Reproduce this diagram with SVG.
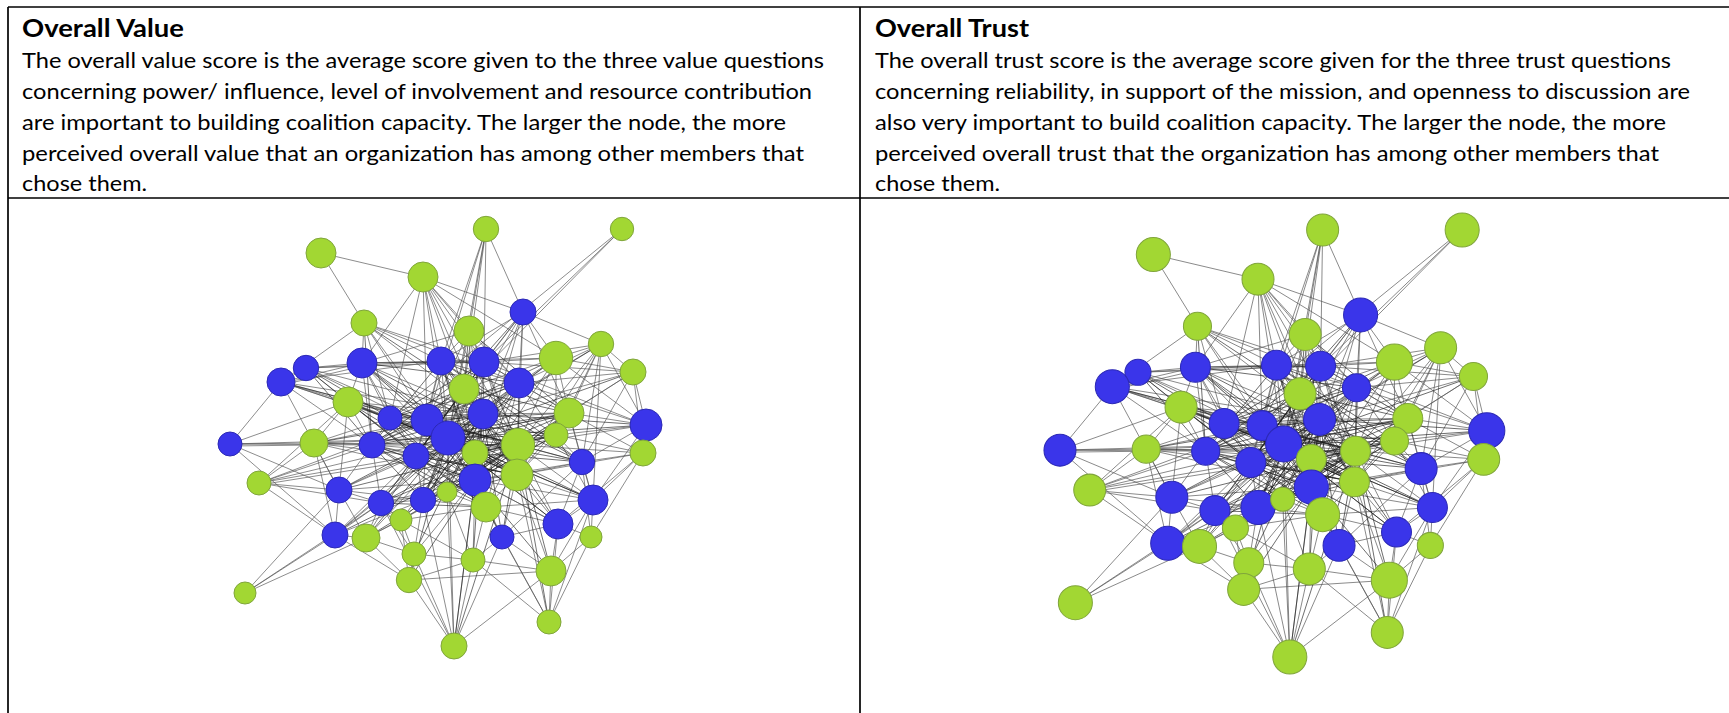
<svg xmlns="http://www.w3.org/2000/svg" xmlns:xlink="http://www.w3.org/1999/xlink" width="1729" height="713" viewBox="0 0 1729 713">
  <style>
    .tb { stroke: #000; stroke-width: 1.7; fill: none; }
    .t { font-family: Lato, "Open Sans", "Liberation Sans", sans-serif; font-size: 22px; fill: #000; }
    .h { font-weight: bold; font-size: 24px; }
    .e { fill: none; stroke: #555; stroke-width: 0.9; stroke-opacity: 0.75; }
    .c { fill: none; stroke: #1e1e1e; stroke-width: 0.9; stroke-opacity: 0.7; }
    .g { fill: #a2d733; stroke: #80a53c; stroke-width: 1; }
    .b { fill: #3a35ea; stroke: #2c29b5; stroke-width: 1; }
  </style>
  <defs>
    <!-- shared edge set of the coalition network (local layout coordinates) -->
    <g id="net-edges">
    <path class="e" d="M486 229L523 312M486 229L469 331M486 229L441 361M486 229L484 362M486 229L464 389M486 229L427 420M486 229L448 438
M622 229L464 389M622 229L390 418M622 229L484 362
M321 253L423 277M321 253L364 323
M423 277L523 312M423 277L469 331M423 277L556 358M423 277L362 363M423 277L441 361M423 277L484 362M423 277L519 383M423 277L464 389M423 277L390 418M423 277L427 420M423 277L483 414M423 277L448 438M423 277L518 445
M523 312L601 344M523 312L556 358M523 312L441 361M523 312L484 362M523 312L519 383M523 312L464 389M523 312L483 414M523 312L569 413M523 312L448 438M523 312L518 445M523 312L475 480
M364 323L362 363M364 323L441 361M364 323L484 362M364 323L281 382M364 323L519 383M364 323L390 418M364 323L427 420M364 323L483 414M364 323L448 438
M469 331L362 363M469 331L441 361M469 331L484 362M469 331L519 383M469 331L427 420M469 331L483 414M469 331L448 438M469 331L518 445M469 331L475 480
M601 344L556 358M601 344L484 362M601 344L633 372M601 344L519 383M601 344L483 414M601 344L569 413M601 344L646 425M601 344L556 435M601 344L518 445M601 344L582 462M601 344L517 475M601 344L593 500
M556 358L441 361M556 358L484 362M556 358L519 383M556 358L464 389M556 358L483 414M556 358L569 413M556 358L646 425M556 358L556 435M556 358L518 445M556 358L475 480
M362 363L281 382M363 366L282 385M362 363L441 361M362 363L348 402M362 363L390 418M362 363L427 420M362 363L483 414M362 363L448 438M362 363L372 445M362 363L416 456M362 363L475 480
M441 361L484 362M441 361L519 383M441 361L464 389M441 361L427 420M441 361L483 414M441 361L448 438M441 361L518 445M441 361L416 456M441 361L475 480
M484 362L519 383M484 362L427 420M484 362L483 414M484 362L569 413M484 362L448 438M484 362L518 445M484 362L475 480M484 362L517 475
M306 368L362 363M306 368L441 361M306 368L484 362M306 368L281 382M306 368L348 402M306 368L427 420M306 368L483 414M306 368L448 438
M281 382L441 361M281 382L348 402M281 382L390 418M281 382L427 420M281 382L448 438M281 382L230 444M281 382L372 445M281 382L339 490M281 382L483 414
M633 372L556 358M633 372L484 362M633 372L519 383M633 372L483 414M633 372L569 413M633 372L646 425M633 372L518 445M633 372L643 453M633 372L582 462
M519 383L427 420M519 383L483 414M519 383L569 413M519 383L448 438M519 383L556 435M519 383L518 445M519 383L475 480M519 383L517 475M519 383L486 507
M464 389L427 420M464 389L483 414M464 389L448 438M464 389L518 445M464 389L475 480
M348 402L390 418M348 402L427 420M348 402L483 414M348 402L448 438M348 402L314 443M348 402L372 445M348 402L416 456M348 402L259 483M348 402L339 490
M390 418L427 420M390 418L448 438M390 418L372 445M390 418L416 456M390 418L475 480
M427 420L483 414M427 420L448 438M427 420L372 445M427 420L518 445M427 420L416 456M427 420L475 453M427 420L475 480M427 420L423 500
M483 414L569 413M483 414L448 438M483 414L518 445M483 414L475 453M483 414L475 480M483 414L517 475M483 414L486 507
M569 413L646 425M569 413L448 438M569 413L556 435M569 413L518 445M569 413L582 462M569 413L475 480M569 413L517 475M569 413L593 500
M646 425L556 435M646 425L518 445M646 425L643 453M646 425L582 462M646 425L593 500M646 425L519 383M646 425L484 362
M448 438L372 445M448 438L518 445M448 438L416 456M448 438L475 453M448 438L475 480M448 438L517 475M448 438L423 500M448 438L447 492M448 438L486 507M448 438L381 503M448 438L502 537M448 438L454 646
M230 444L314 443M230 446L314 445M230 444L372 445M230 444L339 490M230 444L335 535M230 444L348 402M230 444L448 438
M314 443L390 418M314 443L427 420M314 443L448 438M314 443L372 445M314 443L416 456M314 443L339 490M314 443L475 480M314 443L335 535M314 443L259 483
M372 445L518 445M372 445L416 456M372 445L475 453M372 445L339 490M372 445L475 480M372 445L381 503
M556 435L518 445M556 435L643 453M556 435L582 462M556 435L475 480M556 435L517 475M556 435L593 500
M518 445L416 456M518 445L475 453M518 445L582 462M518 445L475 480M518 445L517 475M518 445L593 500M518 445L486 507M518 445L558 524
M643 453L569 413M643 453L518 445M643 453L582 462M643 453L517 475M643 453L593 500M643 453L558 524M643 453L591 537
M416 456L475 453M416 456L475 480M416 456L381 503M416 456L423 500M416 456L447 492
M475 453L475 480M475 453L517 475M475 453L447 492M475 453L486 507
M582 462L475 480M582 462L517 475M582 462L593 500M582 462L502 537M582 462L558 524
M259 483L427 420M259 483L448 438M259 483L372 445M259 483L416 456M259 483L339 490M259 483L381 503M259 483L335 535M259 485L416 460
M339 490L448 438M339 490L416 456M339 490L475 480M339 490L381 503M339 490L423 500M339 490L335 535M339 490L366 538
M475 480L517 475M475 480L423 500M475 480L447 492M475 480L486 507M475 480L502 537M475 480L558 524M475 480L473 560
M517 475L593 500M517 475L486 507M517 475L502 537M517 475L558 524M517 475L551 571
M381 503L475 480M381 503L423 500M381 503L447 492M381 503L366 538M381 503L401 520M381 503L414 554
M423 500L447 492M423 500L486 507M423 500L401 520M423 500L414 554
M447 492L486 507M447 492L401 520M447 492L473 560
M593 500L475 480M593 500L486 507M593 500L558 524M593 500L591 537M593 500L551 571
M486 507L401 520M486 507L502 537M486 507L558 524M486 507L473 560
M335 535L483 414M335 535L448 438M335 535L416 456M335 535L475 480M335 535L381 503M335 535L366 538M335 535L409 580
M366 538L483 414M366 538L416 456M366 538L475 480M366 538L401 520M366 538L414 554M366 538L409 580
M401 520L475 480M401 520L414 554M401 520L473 560M401 520L409 580
M502 537L558 524M502 537L473 560M502 537L551 571M502 537L549 622M502 537L454 646
M558 524L475 480M558 524L591 537M558 524L551 571M558 524L549 622
M591 537L582 462M591 537L551 571M591 537L549 622
M414 554L475 480M414 554L473 560M414 554L409 580M414 554L454 646
M473 560L409 580M473 560L551 571M473 560L549 622M473 560L454 646
M409 580L551 571M409 580L454 646
M551 571L549 622M551 571L454 646
M245 593L339 490M245 593L381 503M245 593L335 535M245 593L366 538
M549 622L517 475M549 622L593 500M549 622L486 507
M454 646L475 480M454 646L381 503M454 646L423 500M454 646L447 492"/>
    <!-- dense core links -->
    <path class="c" d="M362 363L484 362M362 363L519 383M362 363L518 445M362 363L475 453M441 361L569 413M441 361L556 435M441 361L517 475
M484 362L390 418M484 362L416 456M484 362L372 445M519 383L390 418M519 383L416 456M519 383L475 453
M464 389L390 418M464 389L372 445M464 389L416 456M464 389L517 475M464 389L569 413M348 402L475 480M348 402L518 445
M390 418L518 445M390 418L475 453M390 418L483 414M427 420L569 413M427 420L517 475M427 420L486 507
M483 414L372 445M483 414L416 456M483 414L582 462M569 413L475 453M448 438L582 462M448 438L556 435
M372 445L517 475M372 445L486 507M556 435L475 453M518 445L423 500M416 456L517 475M475 453L582 462
M381 503L486 507M423 500L517 475M306 368L372 445M306 368L416 456M306 368L390 418M314 443L483 414M314 443L518 445
M339 490L483 414M339 490L518 445M335 535L518 445M366 538L518 445M556 358L448 438M556 358L427 420
M469 331L464 389M469 331L569 413M523 312L427 420M364 323L464 389M364 323L372 445M281 382L518 445M348 402L475 453
M646 425L448 438M646 425L483 414M633 372L448 438M601 344L448 438M593 500L448 438M558 524L448 438M502 537L483 414
M447 492L518 445M447 492L483 414M423 500L483 414M401 520L483 414M414 554L483 414M473 560L483 414
M551 571L518 445M551 571L475 480M409 580L475 480M409 580L448 438M549 622L518 445M454 646L518 445M454 646L483 414
M441 361L372 445M441 361L475 453M441 361L582 462M484 362L416 456M484 362L423 500M519 383L372 445M519 383L423 500
M464 389L582 462M464 389L423 500M464 389L381 503M427 420L582 462M427 420L556 435M427 420L593 500
M483 414L423 500M483 414L381 503M483 414L558 524M448 438L569 413M448 438L593 500M448 438L558 524M448 438L366 538
M416 456L569 413M416 456L556 435M416 456L486 507M475 453L556 435M475 453L381 503M475 453L423 500
M372 445L569 413M372 445L423 500M372 445L447 492M518 445L447 492M518 445L381 503M518 445L502 537
M475 480L569 413M475 480L556 435M475 480L372 445M517 475L416 456M517 475L390 418M517 475L427 420
M390 418L486 507M390 418L517 475M362 363L517 475M441 361L486 507M348 402L517 475M348 402L486 507"/>
    </g>
  </defs>

  <!-- table frame -->
  <g id="table">
    <line class="tb" x1="8" y1="7" x2="1729" y2="7"/>
    <line class="tb" x1="8" y1="7" x2="8" y2="713"/>
    <line class="tb" x1="860" y1="7" x2="860" y2="713"/>
    <line class="tb" x1="8" y1="198" x2="1729" y2="198"/>
  </g>

  <!-- header cells -->
  <g id="value-header">
    <text class="t h" x="22" y="37" textLength="162" lengthAdjust="spacingAndGlyphs">Overall Value</text>
    <text class="t" x="22" y="68" textLength="802" lengthAdjust="spacingAndGlyphs">The overall value score is the average score given to the three value questions</text>
    <text class="t" x="22" y="99" textLength="790" lengthAdjust="spacingAndGlyphs">concerning power/ influence, level of involvement and resource contribution</text>
    <text class="t" x="22" y="130" textLength="764" lengthAdjust="spacingAndGlyphs">are important to building coalition capacity. The larger the node, the more</text>
    <text class="t" x="22" y="161" textLength="782" lengthAdjust="spacingAndGlyphs">perceived overall value that an organization has among other members that</text>
    <text class="t" x="22" y="191" textLength="125" lengthAdjust="spacingAndGlyphs">chose them.</text>
  </g>
  <g id="trust-header">
    <text class="t h" x="875" y="37" textLength="154" lengthAdjust="spacingAndGlyphs">Overall Trust</text>
    <text class="t" x="875" y="68" textLength="796" lengthAdjust="spacingAndGlyphs">The overall trust score is the average score given for the three trust questions</text>
    <text class="t" x="875" y="99" textLength="815" lengthAdjust="spacingAndGlyphs">concerning reliability, in support of the mission, and openness to discussion are</text>
    <text class="t" x="875" y="130" textLength="791" lengthAdjust="spacingAndGlyphs">also very important to build coalition capacity. The larger the node, the more</text>
    <text class="t" x="875" y="161" textLength="784" lengthAdjust="spacingAndGlyphs">perceived overall trust that the organization has among other members that</text>
    <text class="t" x="875" y="191" textLength="125" lengthAdjust="spacingAndGlyphs">chose them.</text>
  </g>

  <!-- connectors of both networks -->
  <g id="connectors">
    <use xlink:href="#net-edges" href="#net-edges"/>
    <use xlink:href="#net-edges" href="#net-edges" transform="matrix(1.026 0 0 1.024 824 -4.5)"/>
  </g>

  <!-- overall value network -->
  <g id="value-network">
    <g id="v1"><circle class="g" cx="486" cy="229" r="12.7"/></g>
    <g id="v2"><circle class="g" cx="622" cy="229" r="11.7"/></g>
    <g id="v3"><circle class="g" cx="321" cy="253" r="15"/></g>
    <g id="v4"><circle class="g" cx="423" cy="277" r="15"/></g>
    <g id="v5"><circle class="b" cx="523" cy="312" r="13"/></g>
    <g id="v6"><circle class="g" cx="364" cy="323" r="13"/></g>
    <g id="v7"><circle class="g" cx="469" cy="331" r="15"/></g>
    <g id="v8"><circle class="g" cx="601" cy="344" r="12.7"/></g>
    <g id="v9"><circle class="g" cx="556" cy="358" r="16.7"/></g>
    <g id="v10"><circle class="b" cx="362" cy="363" r="15"/></g>
    <g id="v11"><circle class="b" cx="441" cy="361" r="14"/></g>
    <g id="v12"><circle class="b" cx="484" cy="362" r="15"/></g>
    <g id="v13"><circle class="b" cx="306" cy="368" r="12.7"/></g>
    <g id="v14"><circle class="b" cx="281" cy="382" r="14"/></g>
    <g id="v15"><circle class="g" cx="633" cy="372" r="13"/></g>
    <g id="v16"><circle class="b" cx="519" cy="383" r="15"/></g>
    <g id="v17"><circle class="g" cx="464" cy="389" r="15"/></g>
    <g id="v18"><circle class="g" cx="348" cy="402" r="15"/></g>
    <g id="v19"><circle class="b" cx="390" cy="418" r="12"/></g>
    <g id="v20"><circle class="b" cx="427" cy="420" r="16"/></g>
    <g id="v21"><circle class="b" cx="483" cy="414" r="15"/></g>
    <g id="v22"><circle class="g" cx="569" cy="413" r="15"/></g>
    <g id="v23"><circle class="b" cx="646" cy="425" r="16"/></g>
    <g id="v24"><circle class="b" cx="448" cy="438" r="17"/></g>
    <g id="v25"><circle class="b" cx="230" cy="444" r="12"/></g>
    <g id="v26"><circle class="g" cx="314" cy="443" r="14"/></g>
    <g id="v27"><circle class="b" cx="372" cy="445" r="13"/></g>
    <g id="v28"><circle class="g" cx="556" cy="435" r="12"/></g>
    <g id="v29"><circle class="g" cx="518" cy="445" r="16.7"/></g>
    <g id="v30"><circle class="g" cx="643" cy="453" r="13"/></g>
    <g id="v31"><circle class="b" cx="416" cy="456" r="13"/></g>
    <g id="v32"><circle class="g" cx="475" cy="453" r="13"/></g>
    <g id="v33"><circle class="b" cx="582" cy="462" r="12.7"/></g>
    <g id="v34"><circle class="g" cx="259" cy="483" r="12"/></g>
    <g id="v35"><circle class="b" cx="339" cy="490" r="13"/></g>
    <g id="v36"><circle class="b" cx="475" cy="480" r="16"/></g>
    <g id="v37"><circle class="g" cx="517" cy="475" r="16"/></g>
    <g id="v38"><circle class="b" cx="381" cy="503" r="12.7"/></g>
    <g id="v39"><circle class="b" cx="423" cy="500" r="12.7"/></g>
    <g id="v40"><circle class="g" cx="447" cy="492" r="10"/></g>
    <g id="v41"><circle class="b" cx="593" cy="500" r="15"/></g>
    <g id="v42"><circle class="g" cx="486" cy="507" r="15"/></g>
    <g id="v43"><circle class="b" cx="335" cy="535" r="13"/></g>
    <g id="v44"><circle class="g" cx="366" cy="538" r="14"/></g>
    <g id="v45"><circle class="g" cx="401" cy="520" r="11"/></g>
    <g id="v46"><circle class="b" cx="502" cy="537" r="12"/></g>
    <g id="v47"><circle class="b" cx="558" cy="524" r="15"/></g>
    <g id="v48"><circle class="g" cx="591" cy="537" r="11"/></g>
    <g id="v49"><circle class="g" cx="414" cy="554" r="12"/></g>
    <g id="v50"><circle class="g" cx="473" cy="560" r="12"/></g>
    <g id="v51"><circle class="g" cx="409" cy="580" r="12.7"/></g>
    <g id="v52"><circle class="g" cx="551" cy="571" r="15"/></g>
    <g id="v53"><circle class="g" cx="245" cy="593" r="11"/></g>
    <g id="v54"><circle class="g" cx="549" cy="622" r="12"/></g>
    <g id="v55"><circle class="g" cx="454" cy="646" r="13"/></g>
  </g>

  <!-- overall trust network: same layout, placed in the right cell -->
  <g id="trust-network" transform="matrix(1.026 0 0 1.024 824 -4.5)">
    <g id="t1"><circle class="g" cx="486" cy="229" r="15.6"/></g>
    <g id="t2"><circle class="g" cx="622" cy="229" r="16.6"/></g>
    <g id="t3"><circle class="g" cx="321" cy="253" r="16.6"/></g>
    <g id="t4"><circle class="g" cx="423" cy="277" r="15.6"/></g>
    <g id="t5"><circle class="b" cx="523" cy="312" r="16.6"/></g>
    <g id="t6"><circle class="g" cx="364" cy="323" r="13.7"/></g>
    <g id="t7"><circle class="g" cx="469" cy="331" r="15.6"/></g>
    <g id="t8"><circle class="g" cx="601" cy="344" r="15.6"/></g>
    <g id="t9"><circle class="g" cx="556" cy="358" r="17.6"/></g>
    <g id="t10"><circle class="b" cx="362" cy="363" r="14.6"/></g>
    <g id="t11"><circle class="b" cx="441" cy="361" r="14.6"/></g>
    <g id="t12"><circle class="b" cx="484" cy="362" r="14.6"/></g>
    <g id="t13"><circle class="b" cx="306" cy="368" r="12.7"/></g>
    <g id="t14"><circle class="b" cx="281" cy="382" r="16.6"/></g>
    <g id="t15"><circle class="g" cx="633" cy="372" r="13.7"/></g>
    <g id="t16"><circle class="b" cx="519" cy="383" r="13.7"/></g>
    <g id="t17"><circle class="g" cx="464" cy="389" r="15.6"/></g>
    <g id="t18"><circle class="g" cx="348" cy="402" r="15.6"/></g>
    <g id="t19"><circle class="b" cx="390" cy="418" r="14.6"/></g>
    <g id="t20"><circle class="b" cx="427" cy="420" r="14.6"/></g>
    <g id="t21"><circle class="b" cx="483" cy="414" r="15.6"/></g>
    <g id="t22"><circle class="g" cx="569" cy="413" r="14.6"/></g>
    <g id="t23"><circle class="b" cx="646" cy="425" r="17.6"/></g>
    <g id="t24"><circle class="b" cx="448" cy="438" r="17.6"/></g>
    <g id="t25"><circle class="b" cx="230" cy="444" r="15.6"/></g>
    <g id="t26"><circle class="g" cx="314" cy="443" r="13.7"/></g>
    <g id="t27"><circle class="b" cx="372" cy="445" r="13.7"/></g>
    <g id="t28"><circle class="g" cx="556" cy="435" r="13.7"/></g>
    <g id="t29"><circle class="g" cx="518" cy="445" r="14.6"/></g>
    <g id="t30"><circle class="g" cx="643" cy="453" r="15.6"/></g>
    <g id="t31"><circle class="b" cx="416" cy="456" r="14.6"/></g>
    <g id="t32"><circle class="g" cx="475" cy="453" r="14.6"/></g>
    <g id="t33"><circle class="b" cx="582" cy="462" r="15.6"/></g>
    <g id="t34"><circle class="g" cx="259" cy="483" r="15.6"/></g>
    <g id="t35"><circle class="b" cx="339" cy="490" r="15.6"/></g>
    <g id="t36"><circle class="b" cx="475" cy="480" r="16.6"/></g>
    <g id="t37"><circle class="g" cx="517" cy="475" r="14.6"/></g>
    <g id="t38"><circle class="b" cx="381" cy="503" r="14.6"/></g>
    <g id="t39"><circle class="b" cx="423" cy="500" r="16.6"/></g>
    <g id="t40"><circle class="g" cx="447" cy="492" r="11.7"/></g>
    <g id="t41"><circle class="b" cx="593" cy="500" r="14.6"/></g>
    <g id="t42"><circle class="g" cx="486" cy="507" r="16.6"/></g>
    <g id="t43"><circle class="b" cx="335" cy="535" r="16.6"/></g>
    <g id="t44"><circle class="g" cx="366" cy="538" r="16.6"/></g>
    <g id="t45"><circle class="g" cx="401" cy="520" r="12.7"/></g>
    <g id="t46"><circle class="b" cx="502" cy="537" r="15.6"/></g>
    <g id="t47"><circle class="b" cx="558" cy="524" r="14.6"/></g>
    <g id="t48"><circle class="g" cx="591" cy="537" r="12.7"/></g>
    <g id="t49"><circle class="g" cx="414" cy="554" r="14.6"/></g>
    <g id="t50"><circle class="g" cx="473" cy="560" r="15.6"/></g>
    <g id="t51"><circle class="g" cx="409" cy="580" r="15.6"/></g>
    <g id="t52"><circle class="g" cx="551" cy="571" r="17.6"/></g>
    <g id="t53"><circle class="g" cx="245" cy="593" r="16.6"/></g>
    <g id="t54"><circle class="g" cx="549" cy="622" r="15.6"/></g>
    <g id="t55"><circle class="g" cx="454" cy="646" r="16.6"/></g>
  </g>
</svg>
